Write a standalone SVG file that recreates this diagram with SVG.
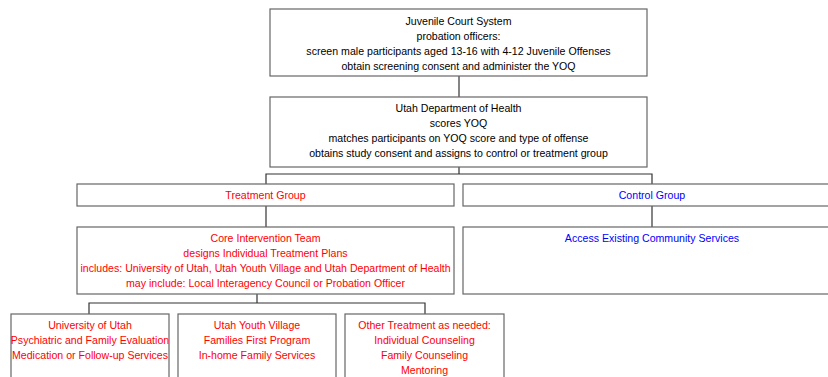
<svg xmlns="http://www.w3.org/2000/svg" width="828" height="377" viewBox="0 0 828 377">
<style>
.box{fill:#fff;stroke:#666;stroke-width:1.2}
.c{fill:none;stroke:#333;stroke-width:1.2}
text{font-family:"Liberation Sans",Arial,sans-serif;font-size:10.6px;text-anchor:middle}
.k{fill:#000}.r{fill:#f00}.b{fill:#00f}
</style>
<rect width="828" height="377" fill="#fff"/>
<g id="connectors">
<path class="c" d="M459 76V97"/>
<path class="c" d="M459 167V174M266 184V174H652V184"/>
<path class="c" d="M266 206V227"/>
<path class="c" d="M652 206V227"/>
<path class="c" d="M257 294V303M89 314V303H425V314"/>
</g>
<g id="juvenile">
<rect class="box" x="270" y="9" width="377" height="67"/>
<text class="k" x="458.5" y="25">Juvenile Court System</text>
<text class="k" x="458.5" y="40">probation officers:</text>
<text class="k" x="458.5" y="55">screen male participants aged 13-16 with 4-12 Juvenile Offenses</text>
<text class="k" x="458.5" y="70">obtain screening consent and administer the YOQ</text>
</g>
<g id="health">
<rect class="box" x="270" y="97" width="377" height="70"/>
<text class="k" x="458.5" y="112">Utah Department of Health</text>
<text class="k" x="458.5" y="127">scores YOQ</text>
<text class="k" x="458.5" y="142">matches participants on YOQ score and type of offense</text>
<text class="k" x="458.5" y="157">obtains study consent and assigns to control or treatment group</text>
</g>
<g id="treatment">
<rect class="box" x="77" y="184" width="377" height="22"/>
<text class="r" x="265.5" y="199">Treatment Group</text>
</g>
<g id="control">
<rect class="box" x="463" y="184" width="380" height="22"/>
<text class="b" x="652" y="199">Control Group</text>
</g>
<g id="core">
<rect class="box" x="77" y="227" width="377" height="67"/>
<text class="r" x="265.5" y="242">Core Intervention Team</text>
<text class="r" x="265.5" y="257">designs Individual Treatment Plans</text>
<text class="r" x="265.5" y="272">includes: University of Utah, Utah Youth Village and Utah Department of Health</text>
<text class="r" x="265.5" y="287">may include: Local Interagency Council or Probation Officer</text>
</g>
<g id="access">
<rect class="box" x="463" y="227" width="380" height="67"/>
<text class="b" x="652" y="242">Access Existing Community Services</text>
</g>
<g id="uofu">
<rect class="box" x="11" y="314" width="158" height="80"/>
<text class="r" x="90" y="329">University of Utah</text>
<text class="r" x="90" y="344">Psychiatric and Family Evaluation</text>
<text class="r" x="90" y="359">Medication or Follow-up Services</text>
</g>
<g id="uyv">
<rect class="box" x="178" y="314" width="158" height="80"/>
<text class="r" x="257" y="329">Utah Youth Village</text>
<text class="r" x="257" y="344">Families First Program</text>
<text class="r" x="257" y="359">In-home Family Services</text>
</g>
<g id="other">
<rect class="box" x="345" y="314" width="159" height="80"/>
<text class="r" x="424.5" y="329">Other Treatment as needed:</text>
<text class="r" x="424.5" y="344">Individual Counseling</text>
<text class="r" x="424.5" y="359">Family Counseling</text>
<text class="r" x="424.5" y="374">Mentoring</text>
</g>
</svg>
